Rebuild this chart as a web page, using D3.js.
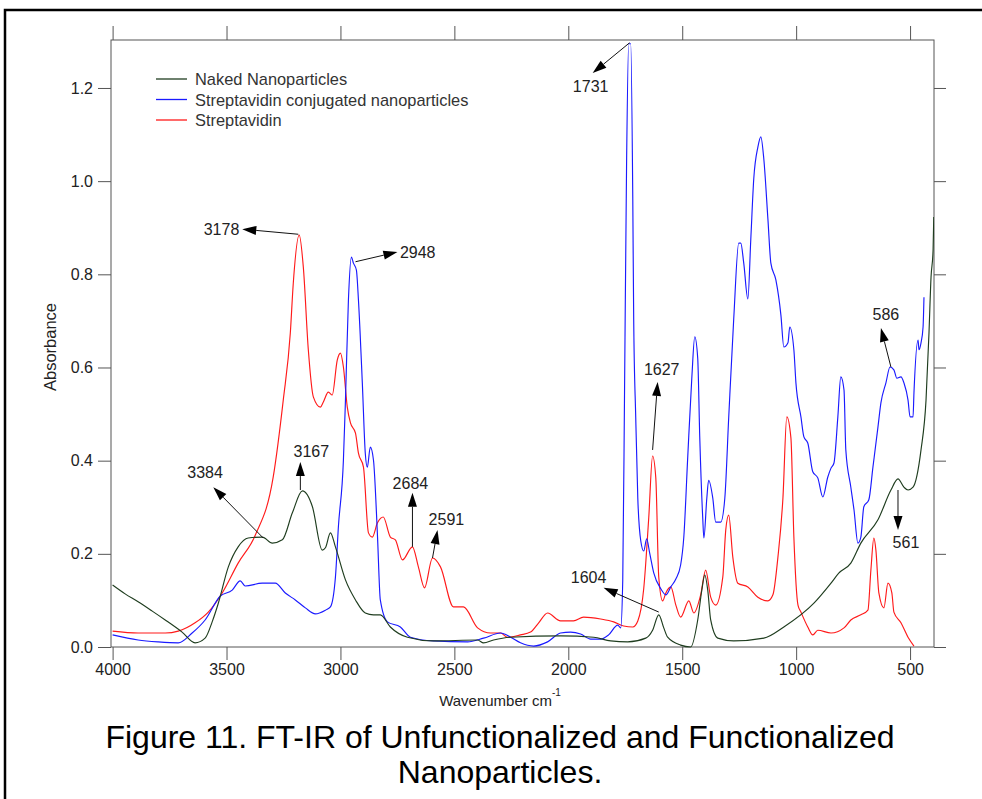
<!DOCTYPE html>
<html><head><meta charset="utf-8">
<script src="https://cdn.jsdelivr.net/npm/d3@7"></script>
<style>body{margin:0;background:#fff}svg{display:block}text{font-family:"Liberation Sans",Arial,sans-serif}</style>
</head><body><svg id="chart" width="982" height="799"></svg>
<script>
// ---------------- DATA ----------------
const xTicks = [4000, 3500, 3000, 2500, 2000, 1500, 1000, 500];
const yTicks = [0, 0.2, 0.4, 0.6, 0.8, 1.0, 1.2];
const seriesNames = ["Naked Nanoparticles", "Streptavidin conjugated nanoparticles", "Streptavidin"];
const seriesColors = ["#1f3d1f", "#1a1aff", "#ff1a1a"];

// [wavenumber cm-1, absorbance]
const nakedNP = [[4000,0.133],[3945,0.114],[3888,0.097],[3826,0.077],[3769,0.058],[3695,0.032],[3638,0.009],[3594,0.019],[3563,0.054],[3536,0.094],[3492,0.172],[3449,0.215],[3405,0.234],[3343,0.236],[3299,0.223],[3255,0.230],[3211,0.288],[3167,0.335],[3123,0.301],[3080,0.208],[3066,0.213],[3044,0.245],[3022,0.215],[2978,0.144],[2934,0.101],[2891,0.073],[2855,0.069],[2825,0.069],[2781,0.043],[2706,0.021],[2592,0.013],[2398,0.015],[2372,0.009],[2328,0.015],[2253,0.021],[2034,0.024],[1889,0.021],[1814,0.013],[1739,0.011],[1660,0.019],[1630,0.036],[1603,0.069],[1581,0.041],[1564,0.021],[1507,0.004],[1463,0.000],[1432,0.058],[1414,0.122],[1401,0.155],[1388,0.122],[1375,0.058],[1344,0.019],[1274,0.013],[1142,0.019],[1054,0.043],[922,0.094],[847,0.137],[812,0.159],[760,0.180],[716,0.223],[641,0.273],[584,0.337],[553,0.361],[527,0.343],[509,0.337],[487,0.343],[452,0.423],[430,0.530],[417,0.674],[408,0.794],[399,0.852],[396,0.923]];

const conjNP = [[4000,0.026],[3888,0.015],[3800,0.011],[3712,0.009],[3651,0.030],[3594,0.058],[3528,0.109],[3475,0.122],[3440,0.142],[3418,0.131],[3343,0.137],[3286,0.137],[3242,0.116],[3198,0.101],[3154,0.084],[3110,0.071],[3066,0.079],[3044,0.086],[3022,0.150],[3009,0.258],[2987,0.401],[2978,0.530],[2965,0.745],[2952,0.837],[2943,0.824],[2930,0.809],[2921,0.745],[2904,0.567],[2891,0.416],[2882,0.386],[2869,0.429],[2855,0.401],[2838,0.245],[2825,0.101],[2794,0.054],[2737,0.043],[2693,0.021],[2592,0.013],[2442,0.011],[2372,0.019],[2297,0.030],[2253,0.021],[2210,0.009],[2152,0.002],[2091,0.011],[2034,0.030],[1990,0.032],[1946,0.028],[1902,0.017],[1858,0.017],[1823,0.026],[1783,0.047],[1770,0.041],[1761,0.144],[1753,0.558],[1744,1.048],[1735,1.295],[1726,1.295],[1717,0.962],[1713,0.704],[1704,0.492],[1695,0.320],[1682,0.228],[1669,0.206],[1656,0.232],[1643,0.202],[1625,0.159],[1594,0.125],[1572,0.112],[1550,0.129],[1528,0.146],[1507,0.176],[1493,0.236],[1476,0.406],[1458,0.577],[1445,0.666],[1432,0.620],[1423,0.449],[1410,0.277],[1405,0.234],[1392,0.320],[1384,0.358],[1366,0.320],[1353,0.268],[1331,0.268],[1313,0.320],[1296,0.492],[1274,0.704],[1252,0.867],[1243,0.867],[1230,0.824],[1212,0.747],[1199,0.876],[1186,1.005],[1168,1.073],[1155,1.095],[1142,1.048],[1124,0.919],[1111,0.824],[1089,0.788],[1067,0.713],[1054,0.644],[1036,0.653],[1028,0.687],[1010,0.638],[1001,0.567],[979,0.494],[966,0.451],[949,0.438],[927,0.376],[905,0.363],[883,0.322],[861,0.365],[847,0.384],[834,0.395],[817,0.494],[804,0.580],[790,0.552],[782,0.423],[760,0.343],[746,0.294],[729,0.223],[716,0.236],[703,0.301],[681,0.316],[663,0.386],[641,0.472],[628,0.524],[606,0.567],[588,0.601],[571,0.595],[558,0.577],[540,0.580],[527,0.567],[509,0.530],[500,0.494],[487,0.494],[483,0.545],[465,0.659],[461,0.638],[452,0.653],[443,0.687],[439,0.751]];

const strept = [[4000,0.034],[3888,0.030],[3769,0.030],[3712,0.034],[3638,0.052],[3580,0.075],[3519,0.116],[3449,0.180],[3374,0.240],[3295,0.365],[3251,0.530],[3220,0.674],[3207,0.781],[3181,0.884],[3163,0.816],[3141,0.638],[3119,0.537],[3088,0.515],[3075,0.526],[3053,0.547],[3036,0.541],[3014,0.616],[3000,0.631],[2987,0.601],[2970,0.515],[2956,0.481],[2934,0.459],[2921,0.416],[2899,0.386],[2877,0.245],[2860,0.236],[2838,0.266],[2812,0.279],[2781,0.236],[2759,0.230],[2728,0.187],[2684,0.215],[2658,0.172],[2631,0.127],[2596,0.191],[2561,0.172],[2504,0.086],[2460,0.086],[2398,0.041],[2341,0.030],[2297,0.030],[2267,0.021],[2210,0.026],[2166,0.032],[2130,0.052],[2091,0.073],[2034,0.056],[1977,0.056],[1933,0.064],[1858,0.060],[1801,0.054],[1757,0.045],[1717,0.043],[1695,0.056],[1669,0.125],[1647,0.277],[1630,0.410],[1616,0.363],[1603,0.150],[1586,0.099],[1572,0.116],[1550,0.129],[1528,0.090],[1507,0.064],[1471,0.099],[1449,0.073],[1419,0.112],[1397,0.165],[1375,0.107],[1353,0.090],[1322,0.150],[1309,0.251],[1296,0.283],[1278,0.193],[1256,0.137],[1212,0.129],[1168,0.107],[1124,0.099],[1102,0.112],[1080,0.193],[1058,0.320],[1041,0.494],[1023,0.449],[1010,0.236],[992,0.090],[979,0.075],[949,0.043],[927,0.026],[905,0.036],[847,0.030],[790,0.041],[760,0.058],[716,0.069],[685,0.079],[672,0.165],[659,0.234],[650,0.208],[637,0.116],[615,0.084],[597,0.137],[580,0.116],[571,0.075],[540,0.052],[509,0.021],[483,0.002]];

// peak annotations: tail = [wavenumber, absorbance], tip = arrow head point, at = label centre
const annotLabels = ["3178", "2948", "3384", "3167", "2684", "2591", "1731", "1627", "1604", "586", "561"];
const annotTails  = [[3185,0.886],[2934,0.827],[3339,0.234],[3176,0.337],[2684,0.215],[2596,0.191],[1731,1.297],[1630,0.423],[1603,0.075],[584,0.601],[553,0.337]];
const annotTips   = [[3431,0.897],[2750,0.848],[3558,0.343],[3176,0.397],[2684,0.331],[2574,0.251],[1893,1.232],[1608,0.569],[1845,0.127],[628,0.685],[553,0.251]];
const annotAt     = [[3522,0.897],[2661,0.846],[3594,0.374],[3128,0.419],[2693,0.352],[2535,0.273],[1902,1.204],[1590,0.595],[1911,0.150],[606,0.713],[518,0.225]];

const captionLines = ["Figure 11. FT-IR of Unfunctionalized and Functionalized", "Nanoparticles."];

// ---------------- CHART ----------------
const svg = d3.select("#chart");
svg.append("rect").attr("width", 982).attr("height", 799).attr("fill", "#fff");
svg.append("rect").attr("x", 5).attr("y", 10).attr("width", 1010).attr("height", 830)
  .attr("fill", "none").attr("stroke", "#000").attr("stroke-width", 2.5);

const L = 111, R = 934, T = 40, B = 647;
const x = d3.scaleLinear().domain([4007, 395]).range([L, R]);
const y = d3.scaleLinear().domain([0, 1.303]).range([B, T]);
const axisColor = "#555", textColor = "#222";

function styleAxis(g) {
  g.select(".domain").remove();
  g.selectAll(".tick line").attr("stroke", axisColor);
  g.selectAll(".tick text").attr("fill", textColor).style("font-size", "16px")
    .style("font-family", '"Liberation Sans", Arial, sans-serif');
}
svg.append("g").attr("transform", `translate(0,${B})`)
  .call(d3.axisBottom(x).tickValues(xTicks).tickSize(13).tickPadding(4).tickFormat(d3.format("d"))).call(styleAxis);
svg.append("g").attr("transform", `translate(0,${T})`)
  .call(d3.axisTop(x).tickValues(xTicks).tickSize(14).tickFormat("")).call(styleAxis);
svg.append("g").attr("transform", `translate(${L},0)`)
  .call(d3.axisLeft(y).tickValues(yTicks).tickSize(13).tickPadding(5).tickFormat(d3.format(".1f"))).call(styleAxis);
svg.append("g").attr("transform", `translate(${R},0)`)
  .call(d3.axisRight(y).tickValues(yTicks).tickSize(12).tickFormat("")).call(styleAxis);

svg.append("rect").attr("x", L).attr("y", T).attr("width", R - L).attr("height", B - T)
  .attr("fill", "none").attr("stroke", axisColor).attr("stroke-width", 1);

svg.append("clipPath").attr("id", "clip").append("rect")
  .attr("x", L).attr("y", T - 1).attr("width", R - L).attr("height", B - T + 2);

const line = d3.line().x(d => x(d[0])).y(d => y(d[1])).curve(d3.curveMonotoneX);
const allSeries = [nakedNP, conjNP, strept];
const plot = svg.append("g").attr("clip-path", "url(#clip)");
[2, 1, 0].forEach(i => {
  plot.append("path").datum(allSeries[i]).attr("d", line)
    .attr("fill", "none").attr("stroke", seriesColors[i]).attr("stroke-width", 1.15)
    .attr("stroke-linejoin", "round");
});

// annotations
const ann = svg.append("g");
annotLabels.forEach((lab, i) => {
  const tx = x(annotTails[i][0]), ty = y(annotTails[i][1]);
  const hx = x(annotTips[i][0]), hy = y(annotTips[i][1]);
  const dx = hx - tx, dy = hy - ty, len = Math.hypot(dx, dy);
  const ux = dx / len, uy = dy / len, hl = 14, hw = 4.5;
  const bx = hx - ux * hl, by = hy - uy * hl;
  ann.append("line").attr("x1", tx).attr("y1", ty).attr("x2", bx).attr("y2", by)
    .attr("stroke", "#111").attr("stroke-width", 1);
  ann.append("path")
    .attr("d", `M${hx},${hy}L${bx - uy * hw},${by + ux * hw}L${bx + uy * hw},${by - ux * hw}Z`)
    .attr("fill", "#000");
  ann.append("text").attr("x", x(annotAt[i][0])).attr("y", y(annotAt[i][1]))
    .attr("text-anchor", "middle").attr("dominant-baseline", "central")
    .attr("fill", textColor).style("font-size", "16px").text(lab);
});

// legend
const lg = svg.append("g");
seriesNames.forEach((n, i) => {
  const yy = 79 + i * 20.5;
  lg.append("line").attr("x1", 156).attr("x2", 187).attr("y1", yy).attr("y2", yy)
    .attr("stroke", seriesColors[i]).attr("stroke-width", 1.3);
  lg.append("text").attr("x", 195).attr("y", yy).attr("dominant-baseline", "central")
    .attr("fill", "#333").style("font-size", "16.4px").text(n);
});

// axis titles
svg.append("text").attr("transform", "translate(50,347) rotate(-90)")
  .attr("text-anchor", "middle").attr("dominant-baseline", "central")
  .attr("fill", textColor).style("font-size", "16.5px").text("Absorbance");
const xt = svg.append("text").attr("x", 500).attr("y", 706).attr("text-anchor", "middle")
  .attr("fill", textColor).style("font-size", "15px");
xt.append("tspan").text("Wavenumber cm");
xt.append("tspan").attr("dy", -10).style("font-size", "10px").text("-1");

// caption
captionLines.forEach((c, i) => {
  svg.append("text").attr("x", 500).attr("y", 748 + i * 35).attr("text-anchor", "middle")
    .attr("fill", "#000").style("font-size", "32px").text(c);
});
</script></body></html>
